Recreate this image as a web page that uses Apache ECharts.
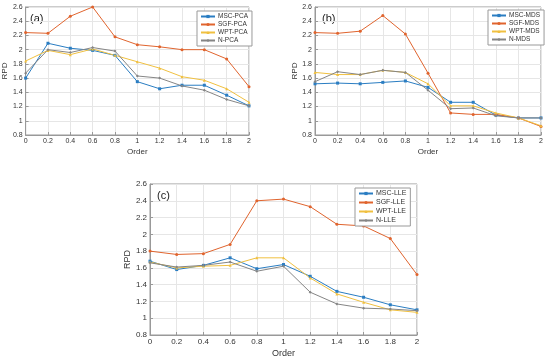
<!DOCTYPE html>
<html><head><meta charset="utf-8">
<script src="https://cdn.jsdelivr.net/npm/echarts@6/dist/echarts.min.js"></script>
<style>html,body{margin:0;padding:0;background:#fff}#c{width:550px;height:359px}</style>
</head><body><div id="c"></div>
<script>
var orders = [0, 0.2, 0.4, 0.6, 0.8, 1.0, 1.2, 1.4, 1.6, 1.8, 2.0];
var yTicks = [0.8, 1, 1.2, 1.4, 1.6, 1.8, 2, 2.2, 2.4, 2.6];
var xTicks = [0, 0.2, 0.4, 0.6, 0.8, 1, 1.2, 1.4, 1.6, 1.8, 2];

var mscPCA = [1.60, 2.09, 2.02, 1.99, 1.92, 1.55, 1.45, 1.50, 1.50, 1.36, 1.21];
var sgfPCA = [2.24, 2.23, 2.47, 2.60, 2.18, 2.07, 2.04, 2.00, 2.00, 1.87, 1.48];
var wptPCA = [1.84, 1.99, 1.93, 2.01, 1.92, 1.83, 1.74, 1.62, 1.57, 1.45, 1.26];
var nPCA   = [1.67, 2.00, 1.96, 2.03, 1.98, 1.63, 1.60, 1.49, 1.43, 1.30, 1.21];

var mscMDS = [1.52, 1.53, 1.52, 1.54, 1.56, 1.47, 1.26, 1.26, 1.08, 1.04, 1.04];
var sgfMDS = [2.24, 2.23, 2.26, 2.48, 2.22, 1.67, 1.11, 1.09, 1.09, 1.04, 0.92];
var wptMDS = [1.68, 1.65, 1.65, 1.71, 1.68, 1.52, 1.21, 1.21, 1.11, 1.04, 0.93];
var nMDS   = [1.55, 1.69, 1.65, 1.71, 1.68, 1.43, 1.17, 1.18, 1.07, 1.04, 1.04];

var mscLLE = [1.68, 1.58, 1.63, 1.72, 1.59, 1.64, 1.50, 1.32, 1.25, 1.16, 1.10];
var sgfLLE = [1.80, 1.76, 1.77, 1.88, 2.40, 2.42, 2.33, 2.12, 2.10, 1.95, 1.52];
var wptLLE = [1.67, 1.60, 1.62, 1.63, 1.72, 1.72, 1.48, 1.29, 1.19, 1.10, 1.07];
var nLLE   = [1.66, 1.61, 1.63, 1.67, 1.56, 1.62, 1.31, 1.17, 1.12, 1.11, 1.09];

var colors = ['#2a7dc2', '#e0642e', '#f0c040', '#858585'];
var symbols = ['rect', 'circle', 'triangle', 'diamond'];

function pairs(vals){ return orders.map(function(x,i){ return [x, vals[i]]; }); }

var panels = [
  {tag:'(a)', names:['MSC-PCA','SGF-PCA','WPT-PCA','N-PCA'], data:[mscPCA,sgfPCA,wptPCA,nPCA],
   grid:{left:23, top:7, width:226, height:128}, legend:{left:197, top:11}, fs:7, nfs:8, lfs:6.5, gap:1},
  {tag:'(b)', names:['MSC-MDS','SGF-MDS','WPT-MDS','N-MDS'], data:[mscMDS,sgfMDS,wptMDS,nMDS],
   grid:{left:315, top:7, width:226, height:128}, legend:{left:488, top:10}, fs:7, nfs:8, lfs:6.5, gap:1},
  {tag:'(c)', names:['MSC-LLE','SGF-LLE','WPT-LLE','N-LLE'], data:[mscLLE,sgfLLE,wptLLE,nLLE],
   grid:{left:150, top:184, width:267, height:152}, legend:{left:355, top:188}, fs:8, nfs:9, lfs:7, gap:2}
];

var grids=[], xAxes=[], yAxes=[], series=[], legends=[], graphics=[];
panels.forEach(function(p, k){
  grids.push({left:p.grid.left, top:p.grid.top, width:p.grid.width, height:p.grid.height,
    show:true, borderColor:'#999', borderWidth:1, backgroundColor:'#fff'});
  xAxes.push({type:'value', gridIndex:k, min:0, max:2, interval:0.2,
    name:'Order', nameLocation:'middle', nameGap:p.nfs+5,
    nameTextStyle:{fontSize:p.nfs, color:'#333', fontFamily:'Liberation Sans'},
    axisLine:{show:true, lineStyle:{color:'#999'}},
    axisTick:{inside:true, length:3, lineStyle:{color:'#999'}},
    axisLabel:{fontSize:p.fs, color:'#333', margin:3, fontFamily:'Liberation Sans',
      formatter:function(v){ return String(Math.round(v*10)/10); }},
    splitLine:{show:true, lineStyle:{color:'#e6e6e6', width:1}}});
  yAxes.push({type:'value', gridIndex:k, min:0.8, max:2.6, interval:0.2,
    name:'RPD', nameLocation:'middle', nameGap:p.fs*2+2, nameRotate:90,
    nameTextStyle:{fontSize:p.nfs, color:'#333', fontFamily:'Liberation Sans'},
    axisLine:{show:true, lineStyle:{color:'#999'}},
    axisTick:{inside:true, length:3, lineStyle:{color:'#999'}},
    axisLabel:{fontSize:p.fs, color:'#333', margin:3, fontFamily:'Liberation Sans',
      formatter:function(v){ return String(Math.round(v*10)/10); }},
    splitLine:{show:true, lineStyle:{color:'#e6e6e6', width:1}}});
  p.names.forEach(function(nm, i){
    series.push({name:nm, type:'line', xAxisIndex:k, yAxisIndex:k, data:pairs(p.data[i]),
      symbol:symbols[i], symbolSize:3, showSymbol:true,
      lineStyle:{color:colors[i], width:1}, itemStyle:{color:colors[i]}, animation:false});
  });
  legends.push({data:p.names, orient:'vertical', left:p.legend.left, top:p.legend.top,
    itemWidth:14, itemHeight:4, itemGap:p.gap, padding:[2,4,2,3],
    backgroundColor:'#fff', borderColor:'#999', borderWidth:1,
    textStyle:{fontSize:p.lfs, color:'#333', fontFamily:'Liberation Sans', padding:[0,0,0,-2]}});
  graphics.push({type:'text', left:p.grid.left+7, top:p.grid.top+6,
    style:{text:p.tag, fontSize:11, fill:'#222', fontFamily:'Liberation Sans'}});
});

var chart = echarts.init(document.getElementById('c'), null, {renderer:'canvas'});
chart.setOption({
  animation:false, backgroundColor:'#fff',
  grid:grids, xAxis:xAxes, yAxis:yAxes, series:series, legend:legends, graphic:graphics
});
</script></body></html>
